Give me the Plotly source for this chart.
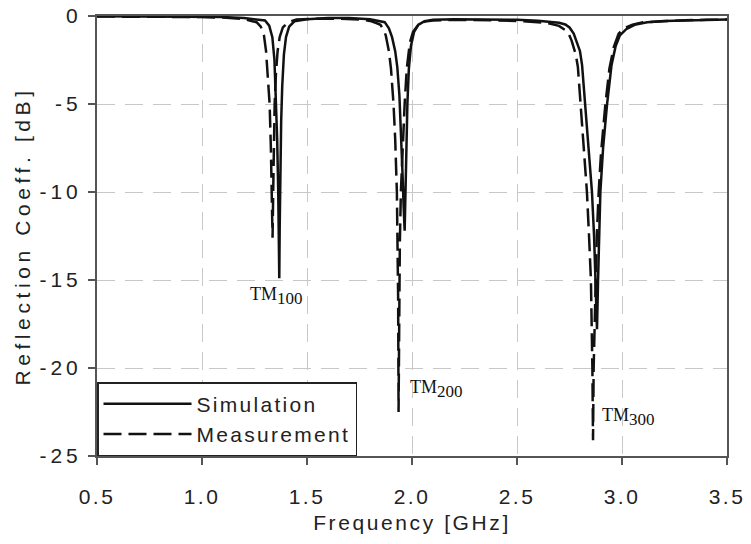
import plotly.graph_objects as go

# ---- data ----
sim_freq = [0.50, 0.70, 0.90, 1.00, 1.10, 1.20, 1.25, 1.30, 1.320, 1.335, 1.345, 1.352, 1.358, 1.363,
            1.366, 1.368, 1.370, 1.373, 1.377, 1.382, 1.390, 1.400, 1.415, 1.440, 1.50, 1.60, 1.70,
            1.80, 1.85, 1.87, 1.89, 1.905, 1.92, 1.93, 1.94, 1.948, 1.955, 1.960, 1.965, 1.969,
            1.973, 1.978, 1.985, 1.995, 2.010, 2.03, 2.06, 2.10, 2.20, 2.30, 2.40, 2.50, 2.60, 2.65,
            2.70, 2.73, 2.75, 2.77, 2.79, 2.80, 2.81, 2.825, 2.84, 2.857, 2.867, 2.873, 2.881,
            2.886, 2.891, 2.897, 2.91, 2.929, 2.95, 2.97, 2.99, 3.02, 3.06, 3.12, 3.20, 3.30,
            3.40, 3.50]
sim_db = [-0.02, -0.02, -0.03, -0.04, -0.06, -0.12, -0.18, -0.25, -0.55, -1.2, -2.5, -4.5, -7.0, -10.0,
          -12.5, -14.9, -12.0, -9.0, -6.0, -4.0, -2.2, -1.2, -0.6, -0.3, -0.18, -0.12, -0.12,
          -0.18, -0.28, -0.35, -0.7, -1.2, -2.0, -2.9, -4.5, -6.5, -9.0, -10.8, -12.2, -10.0,
          -7.5, -5.0, -3.0, -1.7, -0.9, -0.5, -0.3, -0.22, -0.18, -0.18, -0.2, -0.22, -0.27, -0.31,
          -0.38, -0.48, -0.65, -1.0, -1.6, -2.0, -2.8, -5.0, -7.0, -10.0, -12.5, -15.0, -17.8,
          -15.0, -12.5, -10.0, -7.5, -5.0, -2.8, -1.7, -1.1, -0.75, -0.5, -0.36, -0.28, -0.24,
          -0.21, -0.2]

meas_freq = [0.50, 0.70, 0.90, 1.00, 1.10, 1.15, 1.20, 1.24, 1.26, 1.28, 1.295, 1.305, 1.315, 1.322,
             1.328, 1.332, 1.336, 1.339, 1.342, 1.346, 1.352, 1.36, 1.37, 1.385, 1.41, 1.45, 1.55,
             1.65, 1.75, 1.80, 1.83, 1.85, 1.865, 1.875, 1.89, 1.90, 1.912, 1.92, 1.928, 1.932,
             1.934, 1.936, 1.939, 1.942, 1.947, 1.955, 1.965, 1.975, 1.99, 2.005, 2.03, 2.06, 2.10,
             2.20, 2.30, 2.40, 2.50, 2.58, 2.63, 2.66, 2.70, 2.73, 2.746, 2.76, 2.78, 2.79, 2.802,
             2.815, 2.833, 2.843, 2.852, 2.859, 2.862, 2.865, 2.873, 2.880, 2.889, 2.90, 2.921,
             2.94, 2.96, 2.984, 3.01, 3.05, 3.10, 3.20, 3.30, 3.40, 3.50]
meas_db = [-0.03, -0.03, -0.05, -0.06, -0.09, -0.12, -0.18, -0.3, -0.35, -0.6, -1.1, -2.0, -3.5, -5.0,
           -7.5, -10.0, -12.6, -10.0, -7.5, -5.0, -3.3, -2.0, -1.2, -0.65, -0.35, -0.2, -0.15,
           -0.15, -0.2, -0.28, -0.4, -0.5, -0.8, -1.1, -2.0, -3.0, -5.0, -7.0, -10.0, -13.0,
           -16.0, -22.5, -16.0, -13.0, -10.0, -7.5, -5.0, -3.0, -1.5, -0.9, -0.5, -0.32, -0.25,
           -0.22, -0.22, -0.25, -0.28, -0.32, -0.38, -0.44, -0.56, -0.8, -1.0, -1.4, -2.2, -2.9, -5.0,
           -7.0, -10.0, -12.5, -15.0, -20.0, -24.1, -20.0, -15.0, -12.5, -10.0, -7.8, -5.0,
           -3.0, -1.8, -1.0, -0.7, -0.5, -0.36, -0.28, -0.24, -0.22, -0.2]

x_ticks = [0.5, 1.0, 1.5, 2.0, 2.5, 3.0, 3.5]
x_tick_text = ["0.5", "1.0", "1.5", "2.0", "2.5", "3.0", "3.5"]
y_ticks = [0, -5, -10, -15, -20, -25]
y_tick_text = ["0", "-5", "-10", "-15", "-20", "-25"]

mode_names = ["TM", "TM", "TM"]
mode_indices = ["100", "200", "300"]
mode_label_x = [1.219, 1.980, 2.895]
mode_label_y = [-15.9, -21.2, -22.8]

SANS = "Liberation Sans, Arial, sans-serif"
SERIF = "Liberation Serif, Times New Roman, serif"

fig = go.Figure()
fig.add_trace(go.Scatter(x=sim_freq, y=sim_db, mode="lines", name="Simulation",
                         line=dict(color="#111111", width=2.5)))
fig.add_trace(go.Scatter(x=meas_freq, y=meas_db, mode="lines", name="Measurement",
                         line=dict(color="#111111", width=2.5, dash="18px,7px")))

for nm, idx, xx, yy in zip(mode_names, mode_indices, mode_label_x, mode_label_y):
    fig.add_annotation(x=xx, y=yy, text=f"{nm}<sub><span style='font-size:17px'>{idx}</span></sub>",
                       showarrow=False, xanchor="left", yanchor="middle",
                       font=dict(family=SERIF, size=18, color="#111111"))

axis_common = dict(showline=True, linecolor="#555555", linewidth=2, mirror=True,
                   ticks="outside", ticklen=7, tickcolor="#555555", tickwidth=1.5,
                   showgrid=True, gridcolor="#c8c8c8", gridwidth=1.3, griddash="18px,10px",
                   zeroline=False, tickfont=dict(family=SANS, size=21, color="#222222"))

fig.update_xaxes(range=[0.5, 3.5], tickvals=x_ticks, ticktext=x_tick_text,
                 title=dict(text="Frequency [GHz]", font=dict(family=SANS, size=21, color="#222222"),
                            standoff=8),
                 ticklabelstandoff=14, **axis_common)
fig.update_yaxes(range=[-25, 0], tickvals=y_ticks, ticktext=y_tick_text,
                 title=dict(text="Reflection Coeff. [dB]", font=dict(family=SANS, size=21, color="#222222"),
                            standoff=3),
                 ticklabelstandoff=2, **axis_common)

fig.update_layout(
    width=751, height=544,
    margin=dict(l=97, r=24, t=16, b=88, autoexpand=False),
    plot_bgcolor="white", paper_bgcolor="white",
    showlegend=True,
    legend=dict(x=0, y=0, xanchor="left", yanchor="bottom",
                bgcolor="white", bordercolor="#222222", borderwidth=1.5,
                font=dict(family=SANS, size=21, color="#222222"),
                itemwidth=88),
)

fig.write_html("out.html", config={"displayModeBar": False})

# page styling: no body margin, and the wide letter spacing of the original lettering
css = ("<style>html,body{margin:0;padding:0;overflow:hidden;}"
       "g.xtick text{letter-spacing:2.5px;}"
       "g.ytick text{letter-spacing:4px;}"
       "text.xtitle{letter-spacing:2.6px;}"
       "text.ytitle{letter-spacing:4.6px;}"
       "text.legendtext{letter-spacing:2.3px;}</style>")
with open("out.html", encoding="utf-8") as f:
    html = f.read()
html = html.replace("<head>", "<head>" + css, 1)
with open("out.html", "w", encoding="utf-8") as f:
    f.write(html)
